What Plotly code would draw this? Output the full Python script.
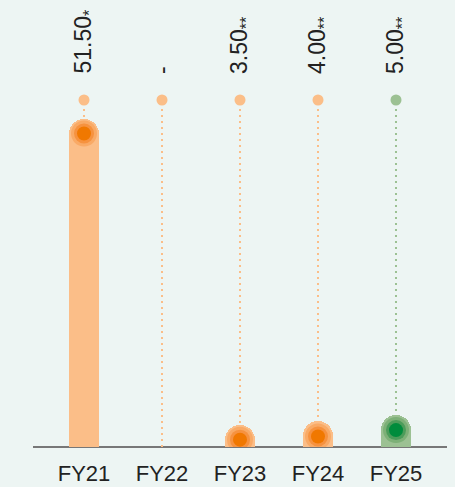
import plotly.graph_objects as go

categories = ["FY21", "FY22", "FY23", "FY24", "FY25"]
values = [51.5, None, 3.5, 4.0, 5.0]
labels = ["51.50<sub>*</sub>", "-", "3.50<sub>**</sub>", "4.00<sub>**</sub>", "5.00<sub>**</sub>"]
highlight = [False, False, False, False, True]

BG = "#EDF5F3"
ORANGE = {"bar": "#FBBE88", "r1": "#F9AA66", "r2": "#F6923F", "r3": "#F07800"}
GREEN = {"bar": "#9CC193", "r1": "#7DB077", "r2": "#4C9C5A", "r3": "#008C3C"}
FONT = "Liberation Sans, Arial, sans-serif"

xs = list(range(len(categories)))
pal = [GREEN if h else ORANGE for h in highlight]

fig = go.Figure()

# dotted guide lines
for x, p in zip(xs, pal):
    fig.add_trace(go.Scatter(
        x=[x, x], y=[0, 1], yaxis="y2", mode="lines",
        line=dict(color=p["bar"], width=2, dash="2px,4px"),
        hoverinfo="skip", showlegend=False))

# bars
bx = [x for x, v in zip(xs, values) if v is not None]
bv = [v for v in values if v is not None]
bc = [p["bar"] for p, v in zip(pal, values) if v is not None]
fig.add_trace(go.Bar(x=bx, y=bv, width=0.385,
                     marker=dict(color=bc, cornerradius=15, line=dict(width=0)),
                     hoverinfo="skip", showlegend=False))

# top dots
fig.add_trace(go.Scatter(
    x=xs, y=[1] * len(xs), yaxis="y2", mode="markers",
    marker=dict(size=11, color=[p["bar"] for p in pal]),
    cliponaxis=False, hoverinfo="skip", showlegend=False))

shapes = []
for x, v, p in zip(xs, values, pal):
    if v is None:
        continue
    for r, key in [(13, "r1"), (10, "r2"), (7, "r3")]:
        shapes.append(dict(
            type="circle", xref="x", yref="y",
            xsizemode="pixel", ysizemode="pixel",
            xanchor=x, yanchor=v,
            x0=-r, x1=r, y0=-15 - r, y1=-15 + r,
            fillcolor=p[key], line=dict(width=0), layer="above"))

annotations = []
for x, t in zip(xs, labels):
    annotations.append(dict(
        x=x, y=1, xref="x", yref="paper", text=t, showarrow=False,
        textangle=-90, xanchor="center", yanchor="bottom", yshift=24,
        font=dict(family=FONT, size=23, color="#222222")))

fig.update_layout(
    width=455, height=487,
    margin=dict(l=33, r=8, t=100, b=40, autoexpand=False),
    paper_bgcolor=BG, plot_bgcolor=BG,
    showlegend=False, bargap=0,
    shapes=shapes, annotations=annotations,
    xaxis=dict(range=[-0.654, 4.654], tickmode="array", tickvals=xs, ticktext=categories,
               showgrid=False, zeroline=False, showline=False, ticks="", automargin=False,
               ticklabelstandoff=11,
               tickfont=dict(family=FONT, size=22, color="#222222")),
    yaxis=dict(range=[0, 54.4], showgrid=False, zeroline=True, zerolinecolor="#777777",
               zerolinewidth=2, showticklabels=False, showline=False, automargin=False),
    yaxis2=dict(range=[0, 1], overlaying="y", showgrid=False, zeroline=False,
                showticklabels=False, visible=False),
)

fig.write_html("out.html", config={"displayModeBar": False},
               post_script="document.body.style.margin='0';document.body.style.background='%s';" % BG)
